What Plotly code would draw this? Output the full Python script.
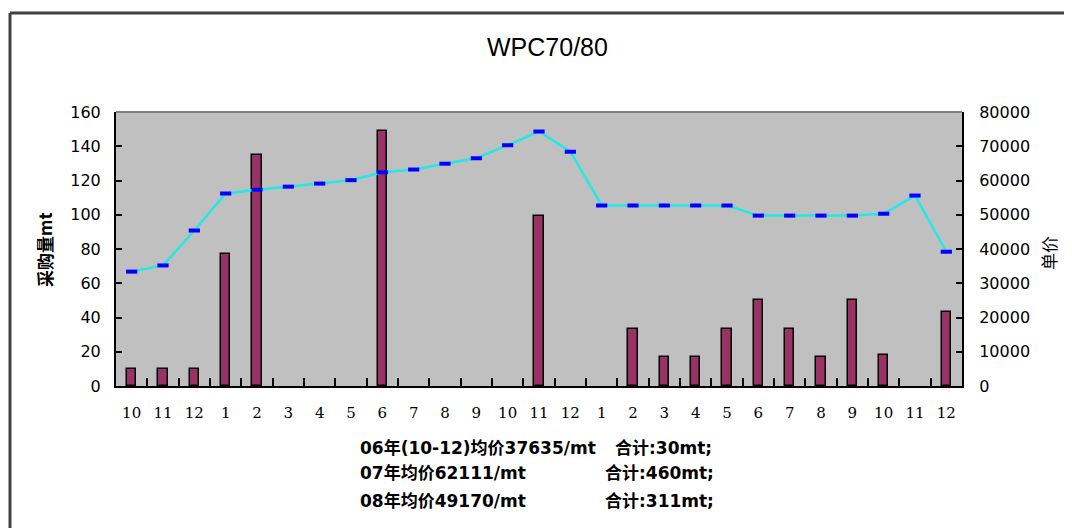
import plotly.graph_objects as go

# ---- data ----
month_labels = ["10", "11", "12",
                "1", "2", "3", "4", "5", "6", "7", "8", "9", "10", "11", "12",
                "1", "2", "3", "4", "5", "6", "7", "8", "9", "10", "11", "12"]
quantity_mt = [10, 10, 10,
               77, 135, None, None, None, 149, None, None, None, None, 99, None,
               None, 33, 17, 17, 33, 50, 33, 17, 50, 18, None, 43]
unit_price = [33400, 35200, 45400,
              56200, 57300, 58200, 59100, 60100, 62400, 63200, 64900, 66500, 70300, 74300, 68400,
              52700, 52700, 52700, 52700, 52700, 49750, 49750, 49750, 49750, 50300, 55600, 39200]
chart_title = "WPC70/80"
left_title = "采购量mt"
right_title = "单价"
summary_left = ["06年(10-12)均价37635/mt", "07年均价62111/mt", "08年均价49170/mt"]
summary_right = ["合计:30mt;", "合计:460mt;", "合计:311mt;"]

# ---- layout geometry (page pixels; the page body adds an 8px offset) ----
OFF = 8
W, H = 1072 - OFF, 528 - OFF
L, R, T, B = 116 - OFF, 962 - OFF, 112 - OFF, 386 - OFF
pw, ph = R - L, B - T


def px(x):
    return (x - OFF - L) / pw


def py(y):
    return (B - (y - OFF)) / ph


idx = list(range(len(month_labels)))

fig = go.Figure()
fig.add_trace(go.Bar(
    x=idx, y=quantity_mt, width=0.3,
    marker=dict(color="#993366", line=dict(color="#000000", width=1.5)),
    yaxis="y", showlegend=False,
))
fig.add_trace(go.Scatter(
    x=idx, y=unit_price, mode="lines+markers",
    line=dict(color="#22E8E8", width=2.5),
    marker=dict(symbol="line-ew", size=8, line=dict(color="#0000FF", width=4)),
    yaxis="y2", showlegend=False,
))

tick_font = dict(family="DejaVu Sans", size=16, color="#000000")

fig.update_layout(
    width=W, height=H,
    margin=dict(l=L, r=W - R, t=T, b=H - B, pad=0),
    paper_bgcolor="#FFFFFF",
    plot_bgcolor="#C0C0C0",
    bargap=0,
    xaxis=dict(
        range=[-0.5, len(idx) - 0.5],
        tickmode="array", tickvals=idx, ticktext=month_labels,
        ticks="", showgrid=False, zeroline=False,
        showline=True, linecolor="#000000", linewidth=2,
        tickfont=dict(family="DejaVu Serif", size=15, color="#000000"),
        ticklabelstandoff=12,
        minor=dict(tickmode="array", tickvals=[i + 0.5 for i in idx[:-1]],
                   ticks="inside", ticklen=8, tickcolor="#000000", tickwidth=2,
                   showgrid=False),
    ),
    yaxis=dict(
        range=[0, 160], tickmode="linear", tick0=0, dtick=20,
        ticks="inside", ticklen=6, tickwidth=2, tickcolor="#000000",
        showgrid=False, zeroline=False,
        showline=True, linecolor="#000000", linewidth=2,
        tickfont=tick_font, ticklabelstandoff=10,
    ),
    yaxis2=dict(
        range=[0, 80000], tickmode="linear", tick0=0, dtick=10000, tickformat="d",
        overlaying="y", side="right",
        ticks="inside", ticklen=6, tickwidth=2, tickcolor="#000000",
        showgrid=False, zeroline=False,
        showline=True, linecolor="#000000", linewidth=2,
        tickfont=tick_font, ticklabelstandoff=12,
    ),
)

sum_font = dict(family="DejaVu Sans, Noto Sans CJK SC", size=17, color="#000000")
annotations = [
    dict(text=chart_title, x=px(547), y=py(47), xref="paper", yref="paper",
         showarrow=False, xanchor="center", yanchor="middle",
         font=dict(family="Liberation Sans", size=25, color="#000000")),
    dict(text="<b>" + left_title + "</b>", x=px(45), y=py(250), xref="paper", yref="paper",
         showarrow=False, xanchor="center", yanchor="middle", textangle=-90,
         font=dict(family="Noto Sans CJK SC", size=17, color="#000000")),
    dict(text=right_title, x=px(1048), y=py(253), xref="paper", yref="paper",
         showarrow=False, xanchor="center", yanchor="middle", textangle=-90,
         font=dict(family="Noto Sans CJK SC", size=17, color="#000000")),
]
rows_y = [448, 473, 501]
right_x = [613, 603, 603]
for i in range(3):
    annotations.append(dict(text="<b>" + summary_left[i] + "</b>", x=px(358), y=py(rows_y[i]),
                            xref="paper", yref="paper", showarrow=False,
                            xanchor="left", yanchor="middle", font=sum_font))
    annotations.append(dict(text="<b>" + summary_right[i] + "</b>", x=px(right_x[i]), y=py(rows_y[i]),
                            xref="paper", yref="paper", showarrow=False,
                            xanchor="left", yanchor="middle", font=sum_font))
fig.update_layout(annotations=annotations)

shapes = [
    # plot area top edge
    dict(type="line", xref="paper", yref="paper", x0=0, x1=1, y0=1, y1=1,
         line=dict(color="#808080", width=2)),
    # outer chart frame (left and top)
    dict(type="line", xref="paper", yref="paper", x0=px(10), x1=px(10), y0=py(540), y1=py(13),
         line=dict(color="#404040", width=3)),
    dict(type="line", xref="paper", yref="paper", x0=px(10), x1=px(1090), y0=py(13), y1=py(13),
         line=dict(color="#404040", width=3)),
]
fig.update_layout(shapes=shapes)

fig.write_html("out.html")
